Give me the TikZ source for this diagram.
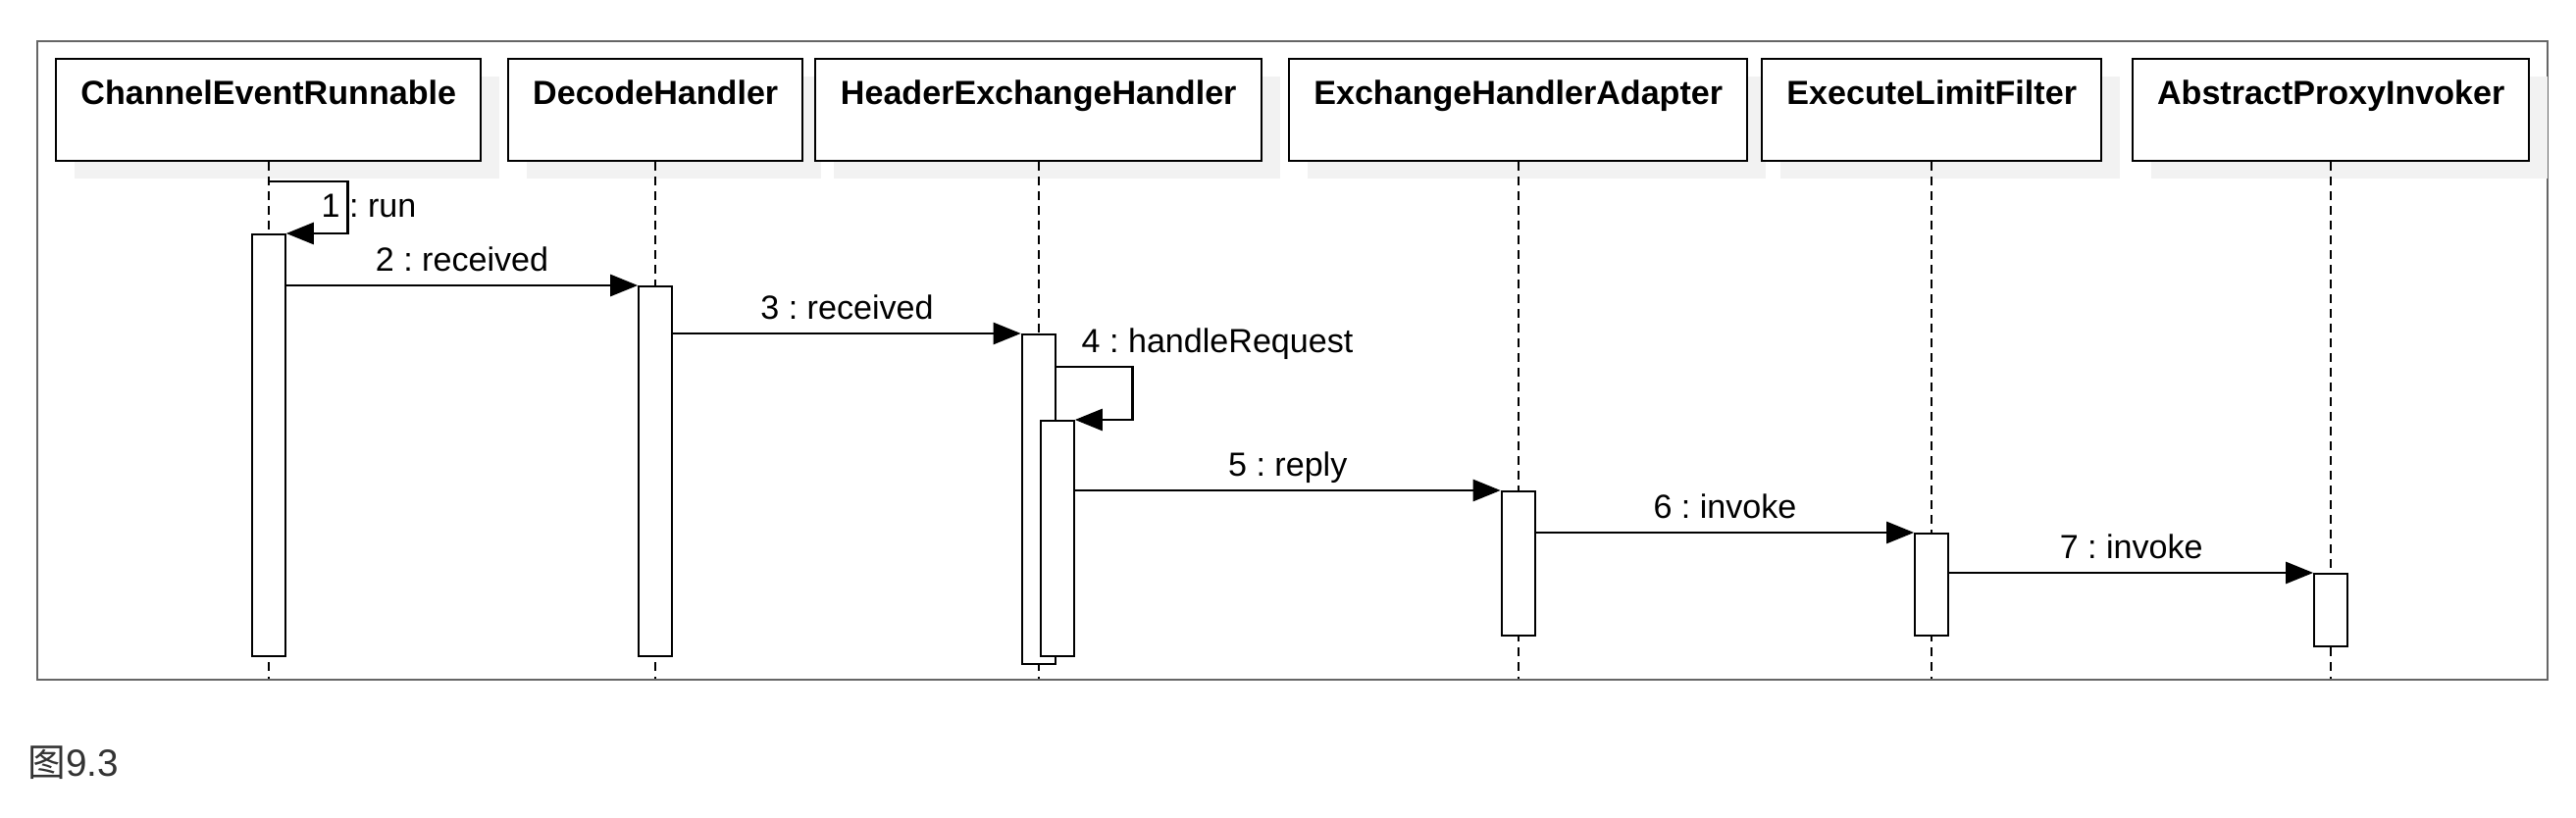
\documentclass[tikz,border=0pt]{standalone}
\usepackage{fontspec}
\setmainfont{Liberation Sans}
\newfontfamily\cjk{Noto Sans CJK SC}
\usetikzlibrary{arrows.meta,shadows}
\frenchspacing

\begin{document}
\begin{tikzpicture}[x=0.1mm, y=-0.1mm,
	font=\fontsize{9.7}{11.6}\selectfont,
	head/.style={draw, line width=0.7pt, fill=white, anchor=north west, inner xsep=0, inner ysep=0,
		text height=4.6mm, text depth=5.8mm, font=\fontsize{9.7}{11.6}\selectfont\bfseries,
		drop shadow={shadow xshift=1.9mm, shadow yshift=-1.8mm, fill=black!5, opacity=1}},
	bar/.style={draw, line width=0.6pt, fill=white, minimum width=3.4mm, inner sep=0, anchor=north},
	life/.style={line width=0.45pt, dash pattern=on 0.9mm off 0.6mm},
	msg/.style={line width=0.75pt, -{Triangle[length=2.8mm, width=2.2mm]}},
	lbl/.style={anchor=base, yshift=1.4mm, inner sep=0}]
	\useasboundingbox (0,0) rectangle (2626,834);
	
	%FRAME
	\draw[black!60, line width=0.6pt] (38,42) rectangle (2597,693);
	
	%HEADS
	\node[head, minimum width=43.3mm] (cer) at (56,59) {ChannelEventRunnable};
	\node[head, minimum width=30.0mm] (dec) at (517,59) {DecodeHandler};
	\node[head, minimum width=45.5mm] (hex) at (830,59) {HeaderExchangeHandler};
	\node[head, minimum width=46.7mm] (eha) at (1313,59) {ExchangeHandlerAdapter};
	\node[head, minimum width=34.6mm] (elf) at (1795,59) {ExecuteLimitFilter};
	\node[head, minimum width=40.4mm] (api) at (2173,59) {AbstractProxyInvoker};
	
	%LIFELINES
	\foreach \h in {cer,dec,hex,eha,elf,api} \draw[life] (\h.south) -- (\h.south |- 0,692);
	
	%ACTIVATIONS
	\node[bar, minimum height=43.0mm] (b1) at (cer.south |- 0,238) {};
	\node[bar, minimum height=37.7mm] (b2) at (dec.south |- 0,291) {};
	\node[bar, minimum height=33.6mm] (b3) at (hex.south |- 0,340) {};
	\node[bar, minimum height=24.0mm, xshift=1.9mm] (b3b) at (hex.south |- 0,428) {};
	\node[bar, minimum height=14.7mm] (b4) at (eha.south |- 0,500) {};
	\node[bar, minimum height=10.4mm] (b5) at (elf.south |- 0,543) {};
	\node[bar, minimum height=7.4mm] (b6) at (api.south |- 0,584) {};
	
	%MESSAGES
	\draw[msg] (cer.south |- 0,185) -| ([xshift=6.3mm]b1.north east) -- (b1.north east);
	\node[anchor=base west, inner sep=0] (t1) at (327,222) {1 : run};
	\draw[msg] (b1.east |- b2.north) -- node[lbl] (t2) {2 : received} (b2.north west);
	\draw[msg] (b2.east |- b3.north) -- node[lbl] (t3) {3 : received} (b3.north west);
	\draw[msg] (b3.east |- 0,374) -| ([xshift=5.9mm]b3b.north east) -- (b3b.north east);
	\node[anchor=base west, inner sep=0] (t4) at (1102,360) {4 : handleRequest};
	\draw[msg] (b3b.east |- b4.north) -- node[lbl] (t5) {5 : reply} (b4.north west);
	\draw[msg] (b4.east |- b5.north) -- node[lbl] (t6) {6 : invoke} (b5.north west);
	\draw[msg] (b5.east |- b6.north) -- node[lbl] (t7) {7 : invoke} (b6.north west);
	
	%CAPTION
	\node[anchor=base west, inner sep=0, text=black!80, font=\fontsize{11}{13}\selectfont] (cap) at (28,792) {{\cjk 图}9.3};
\end{tikzpicture}
\end{document}
